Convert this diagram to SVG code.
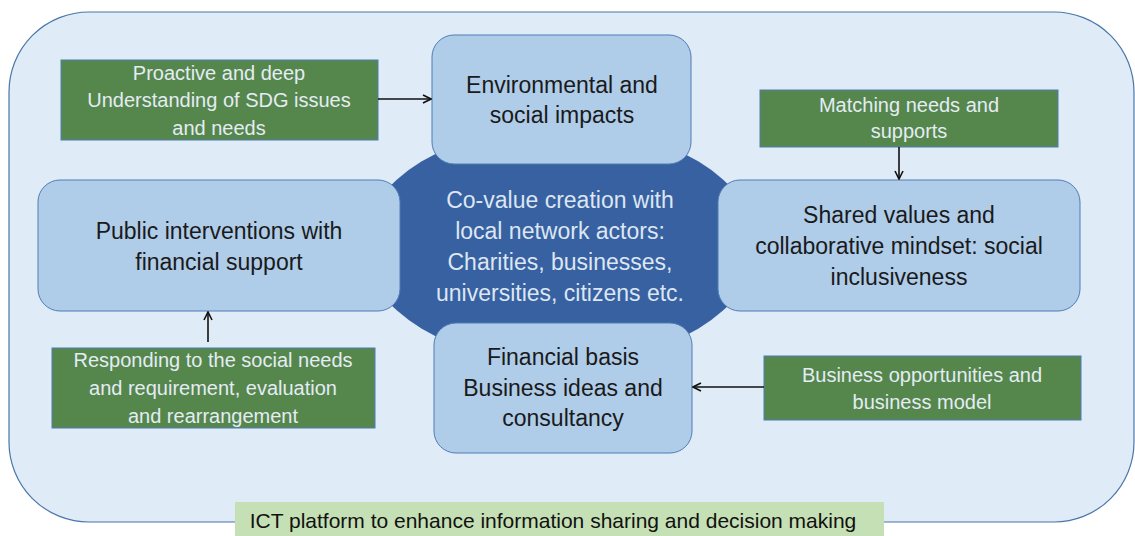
<svg xmlns="http://www.w3.org/2000/svg" width="1135" height="536" viewBox="0 0 1135 536">
<defs>
<marker id="arr" viewBox="0 0 10 10" refX="9" refY="5" markerWidth="10" markerHeight="10" markerUnits="userSpaceOnUse" orient="auto">
<path d="M1,1 L9,5 L1,9" fill="none" stroke="#111" stroke-width="1.6"/>
</marker>
<style>
.light{fill:#AFCCE9;stroke:#4F7DB5;stroke-width:1}
.green{fill:#55864C;stroke:#4F7DB5;stroke-width:1}
.dt{font-family:"Liberation Sans",Arial,sans-serif;font-size:23px;fill:#1A1A1A;text-anchor:middle}
.ct{font-family:"Liberation Sans",Arial,sans-serif;font-size:23px;fill:#DDE6F2;text-anchor:middle}
.gt{font-family:"Liberation Sans",Arial,sans-serif;font-size:20px;fill:#E4ECF4;text-anchor:middle}
.lt{font-family:"Liberation Sans",Arial,sans-serif;font-size:21px;fill:#111;text-anchor:middle}
.conn{stroke:#111;stroke-width:1.6;fill:none;marker-end:url(#arr)}
</style>
</defs>
<rect id="platform-bg" x="9" y="12" width="1125" height="510" rx="80" ry="80" fill="#DFEBF6" stroke="#4A76A8" stroke-width="1.2"/>
<g id="center">
<ellipse cx="560" cy="245" rx="196" ry="118" fill="#3761A1"/>
</g>
<g id="env">
<rect class="light" x="432" y="35" width="259" height="129" rx="22"/>
<text class="dt" x="562" y="93">Environmental and</text>
<text class="dt" x="562" y="123">social impacts</text>
</g>
<g id="public">
<rect class="light" x="38" y="180" width="362" height="131" rx="22"/>
<text class="dt" x="219" y="239">Public interventions with</text>
<text class="dt" x="219" y="270">financial support</text>
</g>
<g id="shared">
<rect class="light" x="718" y="180" width="362" height="131" rx="22"/>
<text class="dt" x="899" y="223">Shared values and</text>
<text class="dt" x="899" y="254">collaborative mindset: social</text>
<text class="dt" x="899" y="285">inclusiveness</text>
</g>
<g id="financial">
<rect class="light" x="434" y="323" width="258" height="130" rx="22"/>
<text class="dt" x="563" y="365">Financial basis</text>
<text class="dt" x="563" y="396">Business ideas and</text>
<text class="dt" x="563" y="426">consultancy</text>
</g>
<g id="center-text">
<text class="ct" x="560" y="208">Co-value creation with</text>
<text class="ct" x="560" y="239">local network actors:</text>
<text class="ct" x="560" y="270">Charities, businesses,</text>
<text class="ct" x="560" y="301">universities, citizens etc.</text>
</g>
<g id="proactive">
<rect class="green" x="61" y="60" width="317" height="80"/>
<text class="gt" x="219" y="80">Proactive and deep</text>
<text class="gt" x="219" y="107">Understanding of SDG issues</text>
<text class="gt" x="219" y="135">and needs</text>
</g>
<g id="matching">
<rect class="green" x="760" y="90" width="298" height="57"/>
<text class="gt" x="909" y="112">Matching needs and</text>
<text class="gt" x="909" y="138">supports</text>
</g>
<g id="responding">
<rect class="green" x="52" y="348" width="323" height="80"/>
<text class="gt" x="213" y="367">Responding to the social needs</text>
<text class="gt" x="213" y="395">and requirement, evaluation</text>
<text class="gt" x="213" y="423">and rearrangement</text>
</g>
<g id="business">
<rect class="green" x="764" y="356" width="317" height="64"/>
<text class="gt" x="922" y="382">Business opportunities and</text>
<text class="gt" x="922" y="409">business model</text>
</g>
<g id="ict">
<rect x="235" y="502" width="649" height="34" fill="#C5E0B4"/>
<text class="lt" x="553" y="528">ICT platform to enhance information sharing and decision making</text>
</g>
<g id="connectors">
<line class="conn" x1="378" y1="99" x2="431" y2="99"/>
<line class="conn" x1="899" y1="147" x2="899" y2="179"/>
<line class="conn" x1="208" y1="342" x2="208" y2="312"/>
<line class="conn" x1="764" y1="387" x2="693" y2="387"/>
</g>
</svg>
